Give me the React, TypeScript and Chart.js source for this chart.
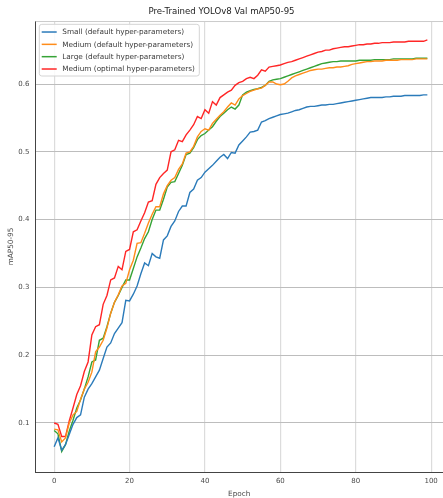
import { useEffect, useRef } from "react";
import { Chart, registerables } from "chart.js";

Chart.register(...registerables);

const epochs: number[] = Array.from({ length: 100 }, (_, i) => i);

const smallDefault = [
  0.065, 0.078, 0.060, 0.068, 0.083, 0.098, 0.108, 0.112, 0.138, 0.150,
  0.158, 0.168, 0.178, 0.195, 0.212, 0.218, 0.232, 0.240, 0.248, 0.281,
  0.280, 0.290, 0.302, 0.320, 0.336, 0.332, 0.350, 0.345, 0.343, 0.370,
  0.376, 0.390, 0.398, 0.412, 0.420, 0.420, 0.440, 0.445, 0.458, 0.462,
  0.470, 0.475, 0.480, 0.486, 0.492, 0.496, 0.490, 0.499, 0.498, 0.510,
  0.516, 0.522, 0.529, 0.530, 0.532, 0.544, 0.546, 0.549, 0.551, 0.553,
  0.555, 0.556, 0.557, 0.559, 0.561, 0.562, 0.564, 0.566, 0.567, 0.567,
  0.568, 0.569, 0.569, 0.570, 0.570, 0.571, 0.572, 0.573, 0.574, 0.575,
  0.576, 0.577, 0.578, 0.579, 0.580, 0.580, 0.580, 0.580, 0.581, 0.581,
  0.582, 0.582, 0.582, 0.583, 0.583, 0.583, 0.583, 0.583, 0.584, 0.584,
];

const mediumDefault = [
  0.091, 0.090, 0.072, 0.078, 0.100, 0.112, 0.117, 0.135, 0.150, 0.160,
  0.175, 0.205, 0.212, 0.222, 0.240, 0.262, 0.278, 0.289, 0.302, 0.306,
  0.326, 0.340, 0.365, 0.366, 0.380, 0.395, 0.408, 0.419, 0.419, 0.438,
  0.450, 0.458, 0.462, 0.474, 0.482, 0.498, 0.500, 0.508, 0.522, 0.530,
  0.534, 0.532, 0.542, 0.548, 0.554, 0.559, 0.566, 0.572, 0.569, 0.578,
  0.583, 0.586, 0.589, 0.591, 0.593, 0.594, 0.598, 0.603, 0.603, 0.600,
  0.599, 0.600, 0.604, 0.609, 0.612, 0.614, 0.616, 0.618, 0.620, 0.621,
  0.622, 0.622, 0.623, 0.624, 0.624, 0.625, 0.625, 0.626, 0.627, 0.629,
  0.630, 0.631, 0.632, 0.633, 0.633, 0.634, 0.634, 0.634, 0.635, 0.635,
  0.635, 0.635, 0.636, 0.636, 0.636, 0.636, 0.637, 0.637, 0.637, 0.637,
];

const largeDefault = [
  0.089, 0.084, 0.058, 0.068, 0.088, 0.104, 0.122, 0.134, 0.150, 0.168,
  0.190, 0.193, 0.222, 0.225, 0.242, 0.262, 0.278, 0.288, 0.300, 0.311,
  0.311, 0.328, 0.345, 0.358, 0.372, 0.382, 0.400, 0.414, 0.414, 0.430,
  0.448, 0.455, 0.456, 0.468, 0.480, 0.496, 0.498, 0.506, 0.518, 0.524,
  0.527, 0.532, 0.537, 0.545, 0.552, 0.557, 0.562, 0.566, 0.563, 0.569,
  0.584, 0.588, 0.590, 0.592, 0.593, 0.595, 0.598, 0.604, 0.606, 0.607,
  0.608, 0.610, 0.612, 0.614, 0.616, 0.618, 0.620, 0.622, 0.624, 0.626,
  0.628, 0.630, 0.631, 0.632, 0.633, 0.633, 0.634, 0.634, 0.634, 0.634,
  0.634, 0.635, 0.635, 0.635, 0.635, 0.636, 0.636, 0.636, 0.636, 0.636,
  0.637, 0.637, 0.637, 0.637, 0.637, 0.637, 0.638, 0.638, 0.638, 0.638,
];

const mediumOptimal = [
  0.100, 0.098, 0.080, 0.080, 0.103, 0.122, 0.142, 0.155, 0.176, 0.190,
  0.230, 0.242, 0.245, 0.275, 0.288, 0.311, 0.314, 0.331, 0.326, 0.353,
  0.356, 0.382, 0.385, 0.398, 0.410, 0.426, 0.428, 0.452, 0.462, 0.468,
  0.473, 0.500, 0.503, 0.517, 0.515, 0.525, 0.532, 0.540, 0.552, 0.549,
  0.562, 0.557, 0.574, 0.569, 0.580, 0.584, 0.588, 0.591, 0.598, 0.602,
  0.604, 0.608, 0.610, 0.608, 0.613, 0.621, 0.619, 0.625, 0.626, 0.627,
  0.628, 0.630, 0.632, 0.633, 0.635, 0.637, 0.639, 0.641, 0.643, 0.645,
  0.647, 0.648, 0.650, 0.650, 0.652, 0.653, 0.654, 0.655, 0.655, 0.656,
  0.657, 0.658, 0.658, 0.659, 0.659, 0.660, 0.660, 0.661, 0.661, 0.661,
  0.662, 0.662, 0.662, 0.662, 0.663, 0.663, 0.663, 0.663, 0.663, 0.665,
];

const seriesLabels = [
  "Small (default hyper-parameters)",
  "Medium (default hyper-parameters)",
  "Large (default hyper-parameters)",
  "Medium (optimal hyper-parameters)",
];
const seriesColors = ["#2b7bba", "#ff8c1a", "#36a336", "#ff2626"];
const xTicks = [0, 20, 40, 60, 80, 100];
const yTicks = [0.1, 0.2, 0.3, 0.4, 0.5, 0.6];

const FONT = "'DejaVu Sans', sans-serif";

const boxLegend = {
  id: "boxLegend",
  afterDatasetsDraw(chart: any) {
    const ctx = chart.ctx as CanvasRenderingContext2D;
    const { top, left, right } = chart.chartArea;
    ctx.save();
    ctx.strokeStyle = "#cccccc";
    ctx.lineWidth = 1;
    ctx.beginPath();
    ctx.moveTo(left, top + 0.5);
    ctx.lineTo(right, top + 0.5);
    ctx.stroke();

    const x0 = left + 3.8;
    const y0 = top + 3.3;
    const w = 160;
    const h = 51.7;
    const r = 2.5;
    ctx.beginPath();
    ctx.moveTo(x0 + r, y0);
    ctx.lineTo(x0 + w - r, y0);
    ctx.arcTo(x0 + w, y0, x0 + w, y0 + r, r);
    ctx.lineTo(x0 + w, y0 + h - r);
    ctx.arcTo(x0 + w, y0 + h, x0 + w - r, y0 + h, r);
    ctx.lineTo(x0 + r, y0 + h);
    ctx.arcTo(x0, y0 + h, x0, y0 + h - r, r);
    ctx.lineTo(x0, y0 + r);
    ctx.arcTo(x0, y0, x0 + r, y0, r);
    ctx.closePath();
    ctx.fillStyle = "rgba(255,255,255,0.85)";
    ctx.fill();
    ctx.strokeStyle = "#d4d4d4";
    ctx.stroke();

    ctx.font = `7.3px ${FONT}`;
    ctx.textBaseline = "middle";
    ctx.textAlign = "left";
    chart.data.datasets.forEach((ds: any, i: number) => {
      const y = y0 + 7.7 + i * 12.33;
      ctx.strokeStyle = ds.borderColor;
      ctx.lineWidth = 1.5;
      ctx.beginPath();
      ctx.moveTo(x0 + 2.4, y);
      ctx.lineTo(x0 + 17.4, y);
      ctx.stroke();
      ctx.fillStyle = "#3a3a3a";
      ctx.fillText(ds.label, x0 + 23, y + 0.5);
    });
    ctx.restore();
  },
};

export default function App() {
  const ref = useRef<HTMLCanvasElement | null>(null);

  useEffect(() => {
    document.body.style.margin = "0";
    const canvas = ref.current;
    if (!canvas) return;
    const seriesValues = [smallDefault, mediumDefault, largeDefault, mediumOptimal];
    const chart = new Chart(canvas, {
      type: "line",
      data: {
        datasets: seriesValues.map((vals, k) => ({
          label: seriesLabels[k],
          data: epochs.map((e, i) => ({ x: e, y: vals[i] })),
          borderColor: seriesColors[k],
          backgroundColor: seriesColors[k],
          borderWidth: 1.4,
          pointRadius: 0,
          tension: 0,
          fill: false,
        })),
      },
      options: {
        responsive: false,
        animation: false,
        devicePixelRatio: 1,
        layout: { padding: 0 },
        plugins: {
          legend: { display: false },
          tooltip: { enabled: false },
          title: {
            display: true,
            text: "Pre-Trained YOLOv8 Val mAP50-95",
            color: "#222222",
            font: { family: FONT, size: 8.6, weight: "normal" },
            padding: { top: 6.5, bottom: 4.2 },
          },
        },
        scales: {
          x: {
            type: "linear",
            min: -4.95,
            max: 103.15,
            afterBuildTicks: (scale: any) => {
              scale.ticks = xTicks.map((v) => ({ value: v }));
            },
            afterFit: (scale: any) => {
              scale.height = 26;
            },
            grid: { color: "#dcdcdc", lineWidth: 1.2, drawTicks: false },
            border: { color: "#444444", width: 1 },
            ticks: {
              color: "#4a4a4a",
              font: { family: FONT, size: 7 },
              padding: 5,
              maxRotation: 0,
              callback: (v: any) => String(v),
            },
            title: {
              display: true,
              text: "Epoch",
              color: "#4a4a4a",
              font: { family: FONT, size: 7.3 },
              padding: { top: 0, bottom: 0 },
            },
          },
          y: {
            type: "linear",
            min: 0.0277,
            max: 0.6929,
            afterBuildTicks: (scale: any) => {
              scale.ticks = yTicks.map((v) => ({ value: v }));
            },
            afterFit: (scale: any) => {
              scale.width = 35.5;
            },
            grid: { color: "#bdbdbd", lineWidth: 1, drawTicks: false },
            border: { color: "#444444", width: 1 },
            ticks: {
              color: "#4a4a4a",
              font: { family: FONT, size: 7 },
              padding: 6,
              callback: (v: any) => Number(v).toFixed(1),
            },
            title: {
              display: true,
              text: "mAP50-95",
              color: "#4a4a4a",
              font: { family: FONT, size: 7.3 },
              padding: { top: 7, bottom: 0 },
            },
          },
        },
      },
      plugins: [boxLegend],
    });
    return () => chart.destroy();
  }, []);

  return (
    <canvas
      ref={ref}
      width={443}
      height={498}
      style={{ display: "block", width: 443, height: 498 }}
    />
  );
}
